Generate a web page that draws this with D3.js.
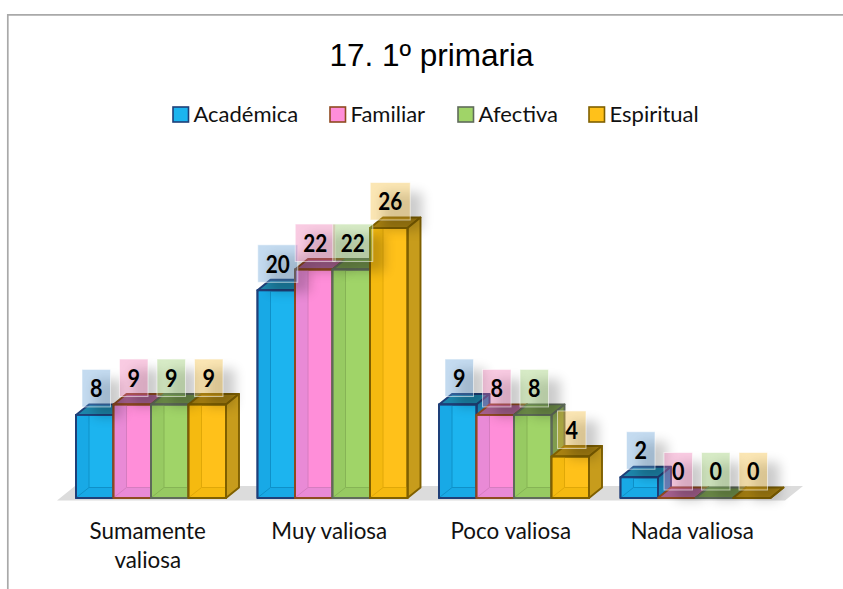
<!DOCTYPE html>
<html><head><meta charset="utf-8">
<script src="https://cdn.jsdelivr.net/npm/d3@7/dist/d3.min.js"></script>
<style>html,body{margin:0;padding:0;background:#fff}svg{display:block}</style></head>
<body><svg id="c" width="843" height="589"></svg>
<script>
const categories = [["Sumamente","valiosa"],["Muy valiosa"],["Poco valiosa"],["Nada valiosa"]];
const seriesNames = ["Académica","Familiar","Afectiva","Espiritual"];
const academica = [8,20,9,2];
const familiar = [9,22,8,0];
const afectiva = [9,22,8,0];
const espiritual = [9,26,4,0];
const values = [academica,familiar,afectiva,espiritual];
const front = ["#1cb4ef","#ff8ed9","#a0d468","#ffc11a"];
const inner = ["#18a9e6","#e98ad6","#97ca62","#f5ba10"];
const innerLine = ["#0f90c8","#d67cc0","#86b455","#e0a808"];
const stroke = ["#1f3f78","#8f4a20","#5f6b5a","#7f6000"];
const topFace = ["#1d86ab","#a5608e","#6f8f4a","#a98212"];
const sideFace = ["#1b86b8","#b0649c","#7f9c4e","#c79c1c"];
const boxFill = ["#5b9bd5","#ee6fb0","#90c860","#f5bb30"];
const legendX = [173,330,458,589];
const DX = 13, DY = 10.5;

const svg = d3.select("#c");
const defs = svg.append("defs");
defs.append("filter").attr("id","sh").attr("x","-60%").attr("y","-60%").attr("width","240%").attr("height","240%")
  .append("feGaussianBlur").attr("stdDeviation",6);

const x0 = d3.scaleBand().domain(d3.range(categories.length)).range([48,774]);
const x1 = d3.scaleBand().domain(d3.range(seriesNames.length)).range([28,178]);
const y = d3.scaleLinear().domain([0,26]).range([498,228]);

// frame
svg.append("path").attr("d","M7.8 589V14.8H843").attr("fill","none").attr("stroke","#a9a9a9").attr("stroke-width",1.7);

svg.append("text").attr("x",431.5).attr("y",66).attr("text-anchor","middle")
  .attr("font-family","Liberation Sans").attr("font-size",31.5).attr("fill","#000").text("17. 1º primaria");

// legend
seriesNames.forEach((n,i)=>{
  const g = svg.append("g");
  g.append("rect").attr("x",legendX[i]).attr("y",107).attr("width",15.5).attr("height",15)
    .attr("fill",front[i]).attr("stroke",stroke[i]).attr("stroke-width",1.6);
  g.append("text").attr("x",legendX[i]+20.5).attr("y",121.5).attr("font-family","Lato").attr("font-size",22).attr("fill","#111").text(n);
});

// floor
const fl = x0.range()[0], fr = x0.range()[1];
svg.append("path").attr("fill","#dcdcdc")
  .attr("d",`M${fl+9} 500.5L${fl+27} 486H${fr+29}L${fr+11} 500.5Z`);

const marks = svg.append("g");
categories.forEach((c,ci)=>{
  values.forEach((vals,si)=>{
    const v = vals[ci];
    const xl = x0(ci)+x1(si), w = x1.bandwidth(), yt = y(v), yb = y(0);
    const g = marks.append("g").attr("stroke",stroke[si]).attr("stroke-width",1.9).attr("stroke-linejoin","round");
    g.append("path").attr("fill",topFace[si]).attr("d",`M${xl} ${yt}L${xl+DX} ${yt-DY}H${xl+w+DX}L${xl+w} ${yt}Z`);
    g.append("path").attr("fill",sideFace[si]).attr("d",`M${xl+w} ${yt}L${xl+w+DX} ${yt-DY}V${yb-DY}L${xl+w} ${yb}Z`);
    if (v>0){
      g.append("rect").attr("x",xl).attr("y",yt).attr("width",w).attr("height",yb-yt).attr("fill",front[si]);
      const ig = g.append("g").attr("stroke","none");
      ig.append("rect").attr("x",xl+1).attr("y",yt+1).attr("width",DX-1).attr("height",yb-yt-2).attr("fill",inner[si]);
      ig.append("path").attr("fill",inner[si]).attr("d",`M${xl+1} ${yb-1}L${xl+DX} ${yb-DY}H${xl+w-1}V${yb-1}Z`);
      ig.append("path").attr("fill","none").attr("stroke",innerLine[si]).attr("stroke-width",1)
        .attr("d",`M${xl+DX} ${yt+1}V${yb-DY}H${xl+w-1}M${xl+1} ${yb-1}L${xl+DX} ${yb-DY}`);
      g.append("rect").attr("x",xl).attr("y",yt).attr("width",w).attr("height",yb-yt).attr("fill","none");
    }
  });
});

// data labels
const labels = svg.append("g");
const boxOf = (ci,si)=>{
  const v = values[si][ci], s = String(v);
  const w = s.length>1?40:28.5, h = 37.5;
  return {s, w, h, cx:x0(ci)+x1(si)+x1.bandwidth()/2+1.5, b:y(v)-8};
};
categories.forEach((c,ci)=>{
  values.forEach((vals,si)=>{
    const {w,h,cx,b} = boxOf(ci,si);
    labels.append("rect").attr("x",cx-w/2+12).attr("y",b-h+10).attr("width",w).attr("height",h)
      .attr("fill","#000").attr("opacity",.2).attr("filter","url(#sh)");
  });
});
categories.forEach((c,ci)=>{
  values.forEach((vals,si)=>{
    const {s,w,h,cx,b} = boxOf(ci,si);
    labels.append("rect").attr("x",cx-w/2).attr("y",b-h).attr("width",w).attr("height",h)
      .attr("fill",boxFill[si]).attr("fill-opacity",.36).attr("stroke","#fff").attr("stroke-opacity",.55).attr("stroke-width",1);
    labels.append("text").attr("x",cx).attr("y",b-h/2+9).attr("text-anchor","middle")
      .attr("font-family","Lato").attr("font-weight",700).attr("font-size",24).attr("fill","#000")
      .attr("textLength",s.length>1?24:12.5).attr("lengthAdjust","spacingAndGlyphs").text(s);
  });
});

// category labels
categories.forEach((c,ci)=>{
  const cx = x0(ci)+x0.bandwidth()/2+9;
  const t = svg.append("text").attr("text-anchor","middle").attr("font-family","Lato").attr("font-size",22.4).attr("fill","#111");
  c.forEach((l,i)=>t.append("tspan").attr("x",cx).attr("y",539+i*29).text(l));
});
</script></body></html>
